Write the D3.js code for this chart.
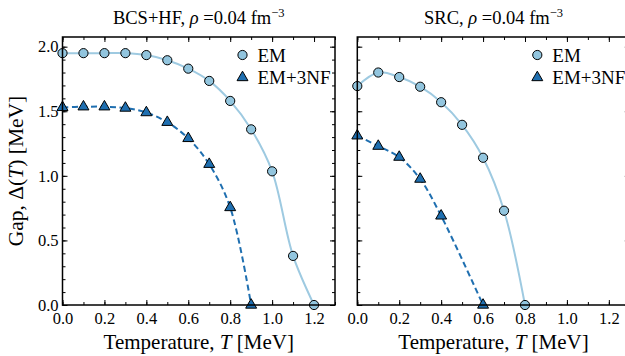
<!DOCTYPE html>
<html>
<head>
<meta charset="utf-8">
<script src="https://cdn.jsdelivr.net/npm/d3@7"></script>
<style>
  body { margin: 0; background: #fff; }
  svg, svg text { font-family: "Liberation Serif", "DejaVu Serif", serif !important; }
</style>
</head>
<body>
<div id="chart"></div>
<script>
// data
const bcsEmT = [0, 0.1, 0.2, 0.3, 0.4, 0.5, 0.6, 0.7, 0.8, 0.9, 1.0, 1.1, 1.2];
const bcsEmGap = [1.95, 1.95, 1.95, 1.95, 1.935, 1.895, 1.83, 1.735, 1.58, 1.36, 1.035, 0.38, 0];
const bcs3nfT = [0, 0.1, 0.2, 0.3, 0.4, 0.5, 0.6, 0.7, 0.8, 0.9];
const bcs3nfGap = [1.53, 1.535, 1.535, 1.525, 1.49, 1.415, 1.29, 1.09, 0.755, 0];
const srcEmT = [0, 0.1, 0.2, 0.3, 0.4, 0.5, 0.6, 0.7, 0.8];
const srcEmGap = [1.695, 1.80, 1.765, 1.69, 1.57, 1.395, 1.14, 0.73, 0];
const src3nfT = [0, 0.1, 0.2, 0.3, 0.4, 0.6];
const src3nfGap = [1.31, 1.23, 1.145, 0.975, 0.69, 0];

const xTicks = [0, 0.2, 0.4, 0.6, 0.8, 1.0, 1.2];
const yTicks = [0, 0.5, 1.0, 1.5, 2.0];
const legendLabels = ["EM", "EM+3NF"];

const panels = [
  { title: "BCS+HF", left: 62.5, em: [bcsEmT, bcsEmGap], nf: [bcs3nfT, bcs3nfGap], yLabels: true },
  { title: "SRC", left: 357.3, em: [srcEmT, srcEmGap], nf: [src3nfT, src3nfGap], yLabels: false }
];

const W = 625, H = 356;
const pw = 272.5, plotTop = 37, plotBottom = 305;
const emFill = "#92c5de", emLine = "#9ecae1";
const nfColor = "#1f6fb0";

const svg = d3.select("#chart").append("svg")
  .attr("width", W).attr("height", H);

const y = d3.scaleLinear().domain([0, 2.075]).range([plotBottom, plotTop]);
const minorX = d3.range(0, 1.31, 0.1).map(v => +v.toFixed(1));
const minorY = d3.range(0, 2.05, 0.1).map(v => +v.toFixed(1));

const tri = d3.symbol().type(d3.symbolTriangle).size(52);
const line = d3.line().curve(d3.curveCatmullRom.alpha(0.5));

panels.forEach(p => {
  const x = d3.scaleLinear().domain([0, 1.3]).range([p.left, p.left + pw]);
  const g = svg.append("g");

  // ticks, inward on all four sides
  const styleAxis = sel => {
    sel.attr("font-family", null).attr("font-size", null);
    sel.select(".domain").remove();
    sel.selectAll(".tick line").attr("stroke", "#000").attr("stroke-width", 1);
    sel.selectAll(".tick text").attr("fill", "#000").style("font-size", "16.5px");
  };
  g.append("g").attr("transform", `translate(0,${plotBottom})`)
    .call(d3.axisBottom(x).tickValues(minorX).tickSize(-3).tickFormat("")).call(styleAxis);
  g.append("g").attr("transform", `translate(0,${plotBottom})`)
    .call(d3.axisBottom(x).tickValues(xTicks).tickSize(-5).tickPadding(7).tickFormat(d3.format(".1f"))).call(styleAxis);
  g.append("g").attr("transform", `translate(0,${plotTop})`)
    .call(d3.axisTop(x).tickValues(minorX).tickSize(-3).tickFormat("")).call(styleAxis);
  g.append("g").attr("transform", `translate(0,${plotTop})`)
    .call(d3.axisTop(x).tickValues(xTicks).tickSize(-5).tickFormat("")).call(styleAxis);

  g.append("g").attr("transform", `translate(${p.left},0)`)
    .call(d3.axisLeft(y).tickValues(minorY).tickSize(-3).tickFormat("")).call(styleAxis);
  g.append("g").attr("transform", `translate(${p.left},0)`)
    .call(d3.axisLeft(y).tickValues(yTicks).tickSize(-5).tickPadding(4)
      .tickFormat(p.yLabels ? d3.format(".1f") : "")).call(styleAxis);
  g.append("g").attr("transform", `translate(${p.left + pw},0)`)
    .call(d3.axisRight(y).tickValues(minorY).tickSize(-3).tickFormat("")).call(styleAxis);
  g.append("g").attr("transform", `translate(${p.left + pw},0)`)
    .call(d3.axisRight(y).tickValues(yTicks).tickSize(-5).tickFormat("")).call(styleAxis);

  // lines
  const emPts = p.em[0].map((t, i) => [x(t), y(p.em[1][i])]);
  const nfPts = p.nf[0].map((t, i) => [x(t), y(p.nf[1][i])]);

  g.append("path").attr("d", line(emPts))
    .attr("fill", "none").attr("stroke", emLine).attr("stroke-width", 2);
  g.append("path").attr("d", line(nfPts))
    .attr("fill", "none").attr("stroke", nfColor).attr("stroke-width", 2)
    .attr("stroke-dasharray", "6,3.5");

  // markers
  g.selectAll(".em").data(emPts).join("circle")
    .attr("cx", d => d[0]).attr("cy", d => d[1]).attr("r", 4.6)
    .attr("fill", emFill).attr("stroke", "#000").attr("stroke-width", 1);
  g.selectAll(".nf").data(nfPts).join("path")
    .attr("d", tri).attr("transform", d => `translate(${d[0]},${d[1]})`)
    .attr("fill", nfColor).attr("stroke", "#000").attr("stroke-width", 1);

  // frame
  g.append("rect").attr("x", p.left).attr("y", plotTop)
    .attr("width", pw).attr("height", plotBottom - plotTop)
    .attr("fill", "none").attr("stroke", "#000").attr("stroke-width", 1.5);

  // legend
  const lx = p.left + 180;
  g.append("circle").attr("cx", lx).attr("cy", 55).attr("r", 4.6)
    .attr("fill", emFill).attr("stroke", "#000");
  g.append("path").attr("d", tri).attr("transform", `translate(${lx},77.5)`)
    .attr("fill", nfColor).attr("stroke", "#000");
  legendLabels.forEach((lab, i) => {
    g.append("text").attr("x", lx + 15).attr("y", 55 + i * 22.5).attr("dy", "0.35em")
      .style("font-size", "19px").text(lab);
  });

  // title
  const t = g.append("text").attr("x", p.left + pw / 2).attr("y", 24)
    .attr("text-anchor", "middle").style("font-size", "18.5px");
  t.append("tspan").text(p.title + ", ");
  t.append("tspan").attr("font-style", "italic").text("ρ");
  t.append("tspan").text(" =0.04 fm");
  t.append("tspan").style("font-size", "12.5px").attr("dy", -7).text("−3");

  // x label
  const xl = g.append("text").attr("x", p.left + pw / 2).attr("y", 348.5)
    .attr("text-anchor", "middle").style("font-size", "21px");
  xl.append("tspan").text("Temperature, ");
  xl.append("tspan").attr("font-style", "italic").text("T");
  xl.append("tspan").text(" [MeV]");
});

// y label
const yl = svg.append("text")
  .attr("transform", `translate(23,${(plotTop + plotBottom) / 2}) rotate(-90)`)
  .attr("text-anchor", "middle").style("font-size", "21.5px");
yl.append("tspan").text("Gap, Δ(");
yl.append("tspan").attr("font-style", "italic").text("T");
yl.append("tspan").text(") [MeV]");
</script>
</body>
</html>
